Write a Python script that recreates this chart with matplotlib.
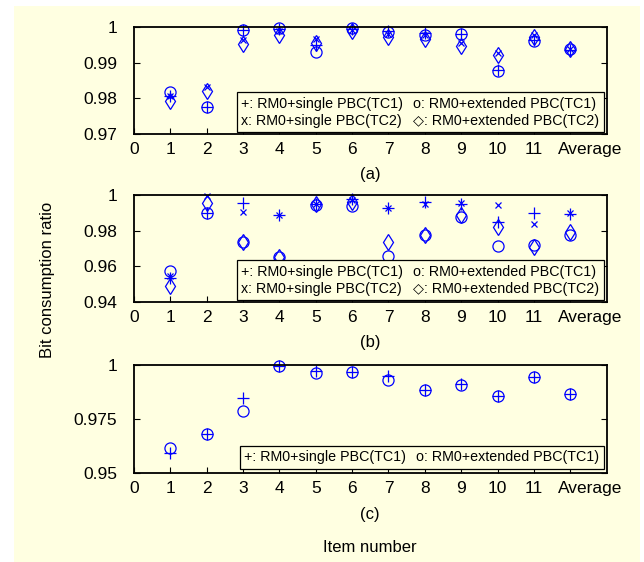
#imports
import matplotlib
matplotlib.use("Agg")
import matplotlib.pyplot as plt
from matplotlib.lines import Line2D
from matplotlib.patches import Rectangle
from matplotlib.transforms import ScaledTranslation

plt.rcParams['font.family'] = ['Liberation Sans', 'DejaVu Sans']

#data
items = [1, 2, 3, 4, 5, 6, 7, 8, 9, 10, 11, 12]
tick_pos = [0, 1, 2, 3, 4, 5, 6, 7, 8, 9, 10, 11, 12]
tick_labels = ['0', '1', '2', '3', '4', '5', '6', '7', '8', '9', '10', '11', 'Average']

#(a)
a_single_tc1 = [0.9807, 0.9775, 0.9993, 0.9994, 0.9951, 0.9995, 0.9988, 0.9983, 0.9981, 0.9881, 0.9965, 0.9937]
a_ext_tc1 = [0.9818, 0.9775, 0.9993, 0.9997, 0.9931, 0.9997, 0.9986, 0.9977, 0.9981, 0.9877, 0.9960, 0.9938]
a_single_tc2 = [0.9806, 0.9832, 0.9965, 0.9988, 0.9967, 0.9993, 0.9981, 0.9979, 0.9956, 0.9928, 0.9979, 0.9939]
a_ext_tc2 = [0.9794, 0.9821, 0.9954, 0.9979, 0.9956, 0.9990, 0.9972, 0.9968, 0.9948, 0.9923, 0.9972, 0.9938]

#(b)
b_single_tc1 = [0.9536, 0.9903, 0.9959, 0.9889, 0.9950, 0.9981, 0.9929, 0.9963, 0.9948, 0.9851, 0.9898, 0.9894]
b_ext_tc1 = [0.9573, 0.9903, 0.9740, 0.9651, 0.9944, 0.9939, 0.9656, 0.9777, 0.9879, 0.9712, 0.9721, 0.9777]
b_single_tc2 = [0.9545, 0.9996, 0.9907, 0.9889, 0.9952, 0.9975, 0.9929, 0.9948, 0.9954, 0.9944, 0.9837, 0.9899]
b_ext_tc2 = [0.9489, 0.9954, 0.9740, 0.9651, 0.9950, 0.9963, 0.9740, 0.9777, 0.9889, 0.9824, 0.9707, 0.9795]

#(c)
c_single_tc1 = [0.9594, 0.9680, 0.9848, 0.9995, 0.9972, 0.9969, 0.9948, 0.9883, 0.9914, 0.9859, 0.9945, 0.9868]
c_ext_tc1 = [0.9614, 0.9680, 0.9786, 0.9995, 0.9964, 0.9969, 0.9933, 0.9883, 0.9906, 0.9859, 0.9945, 0.9868]

labels4 = ['+: RM0+single PBC(TC1)', 'x: RM0+single PBC(TC2)',
           'o: RM0+extended PBC(TC1)', '\u25c7: RM0+extended PBC(TC2)']
labels2 = ['+: RM0+single PBC(TC1)', 'o: RM0+extended PBC(TC1)']

bg = '#FFFFE1'
blue = '#0000FF'

fig = plt.figure(figsize=(6.44, 5.62), dpi=100, facecolor='white')
fig.patches.append(Rectangle((14/644, 0), 1 - 18/644, 1 - 6/562, transform=fig.transFigure,
                             facecolor=bg, edgecolor='none', zorder=-10))

def setup(ax, ylim, yticks, ytl):
    ax.set_facecolor(bg)
    ax.set_xlim(0, 13)
    ax.set_ylim(*ylim)
    ax.set_xticks(tick_pos)
    ax.set_xticklabels(tick_labels)
    ax.set_yticks(yticks)
    ax.set_yticklabels(ytl)
    ax.tick_params(direction='in', length=4, width=0.8, labelsize=12.5, right=True)
    ax.tick_params(axis='y', pad=12)
    ax.tick_params(axis='x', pad=6)
    for s in ax.spines.values():
        s.set_linewidth(1.3)
    # "Average" sits a bit right of its tick in the original
    lab = ax.get_xticklabels()[-1]
    lab.set_transform(lab.get_transform() + ScaledTranslation(0.2, 0, fig.dpi_scale_trans))

def draw(ax, series):
    for y, m, ms in series:
        if m in ('o', 'd'):
            ax.plot(items, y, linestyle='none', marker=m, markersize=ms, markerfacecolor='none',
                    markeredgecolor=blue, markeredgewidth=0.9, clip_on=False)
        else:
            ax.plot(items, y, linestyle='none', marker=m, markersize=ms, color=blue,
                    markeredgewidth=0.9, clip_on=False)

def add_legend(ax, labels, ncol, anchor):
    handles = [Line2D([], [], linestyle='none') for _ in labels]
    leg = ax.legend(handles, labels, ncol=ncol, loc='lower right', bbox_to_anchor=anchor,
                    handlelength=0, handletextpad=0, columnspacing=0.7, borderaxespad=0,
                    fontsize=10.3, fancybox=False, framealpha=1, facecolor=bg,
                    edgecolor='black', borderpad=0.3, labelspacing=0.2)
    leg.get_frame().set_linewidth(0.9)

#panel (a)
ax1 = fig.add_axes([0.208, 0.7616, 0.734, 0.190])
setup(ax1, (0.97, 1.0), [0.97, 0.98, 0.99, 1.0], ['0.97', '0.98', '0.99', '1'])
draw(ax1, [(a_single_tc1, '+', 8), (a_ext_tc1, 'o', 8), (a_single_tc2, 'x', 5), (a_ext_tc2, 'd', 8)])
add_legend(ax1, labels4, 2, (0.994, 0.02))

#panel (b)
ax2 = fig.add_axes([0.208, 0.4626, 0.734, 0.190])
setup(ax2, (0.94, 1.0), [0.94, 0.96, 0.98, 1.0], ['0.94', '0.96', '0.98', '1'])
draw(ax2, [(b_single_tc1, '+', 8), (b_ext_tc1, 'o', 8), (b_single_tc2, 'x', 5), (b_ext_tc2, 'd', 8)])
add_legend(ax2, labels4, 2, (0.994, 0.02))

#panel (c)
ax3 = fig.add_axes([0.208, 0.1584, 0.734, 0.192])
setup(ax3, (0.95, 1.0), [0.95, 0.975, 1.0], ['0.95', '0.975', '1'])
draw(ax3, [(c_single_tc1, '+', 8), (c_ext_tc1, 'o', 8)])
add_legend(ax3, labels2, 2, (0.994, 0.04))

#labels
fig.text(370/644, 1 - 174/562, '(a)', ha='center', va='center', fontsize=12)
fig.text(370/644, 1 - 343/562, '(b)', ha='center', va='center', fontsize=12)
fig.text(370/644, 1 - 515/562, '(c)', ha='center', va='center', fontsize=12)
fig.text(370/644, 1 - 548/562, 'Item number', ha='center', va='center', fontsize=12)
fig.text(48/644, 1 - 280/562, 'Bit consumption ratio', ha='center', va='center', rotation=90, fontsize=12)

plt.savefig("out.png", dpi=100, facecolor=fig.get_facecolor())
